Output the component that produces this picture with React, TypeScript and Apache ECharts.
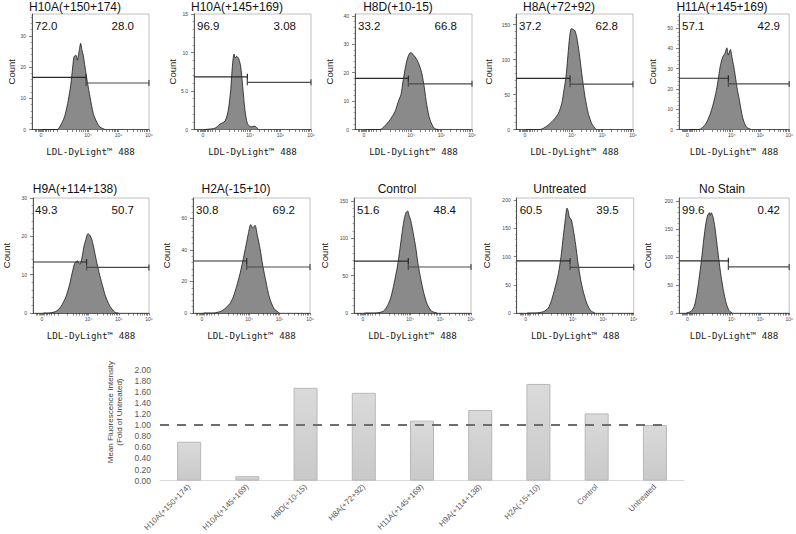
import React, { useEffect, useRef } from "react";
import * as echarts from "echarts";

// ---------- data ----------
const panelTitles = ["H10A(+150+174)", "H10A(+145+169)", "H8D(+10-15)", "H8A(+72+92)", "H11A(+145+169)", "H9A(+114+138)", "H2A(-15+10)", "Control", "Untreated", "No Stain"];
const leftGatePct = ["72.0", "96.9", "33.2", "37.2", "57.1", "49.3", "30.8", "51.6", "60.5", "99.6"];
const rightGatePct = ["28.0", "3.08", "66.8", "62.8", "42.9", "50.7", "69.2", "48.4", "39.5", "0.42"];

const countAxisMax = [37, 15, 40.7, 165, 57, 30, 73, 154, 204, 206];
const countInterval = [10, 5, 10, 50, 10, 10, 20, 50, 50, 50];
const countTicks = [
  [0, 10, 20, 30], [0, 5, 10, 15], [0, 10, 20, 30, 40], [0, 50, 100, 150], [0, 10, 20, 30, 40, 50],
  [0, 10, 20, 30], [0, 20, 40, 60], [0, 50, 100, 150], [0, 50, 100, 150, 200], [0, 50, 100, 150, 200],
];
const countTickLabels = [
  ["0", "10", "20", "30"], ["0", "5.0", "10", "15"], ["0", "10", "20", "30", "40"], ["0", "50", "100", "150"], ["0", "10", "20", "30", "40", "50"],
  ["0", "10", "20", "30"], ["0", "20", "40", "60"], ["0", "50", "100", "150"], ["0", "50", "100", "150", "200"], ["0", "50", "100", "150", "200"],
];

// fluorescence display scale (0..100, biexponential display units)
const fluorMin = 0;
const fluorMax = 100;
const fluorTickValues = [7.7, 48, 74, 100];
const fluorTickLabels = ["0", "10⁴", "10⁵", "10⁶"];
const fluorMinorTicks = [3, 4, 5, 6, 7, 9, 10, 11, 12, 14, 16, 18, 22, 29.8, 34.4, 37.7, 40.2, 42.2, 44, 45.5, 46.8, 55.8, 60.4, 63.7, 66.2, 68.2, 70, 71.5, 72.8, 81.8, 86.4, 89.7, 92.2, 94.2, 96, 97.5, 98.8];

// histograms: [display value, count]
const histH10A150 = [[9, 0], [21.4, 0], [25.4, 2], [28.2, 4.6], [31, 9.4], [33.1, 14.2], [34.8, 20], [35.9, 23.3], [37.6, 23.8], [38.7, 22.2], [40.4, 25.4], [41.6, 27.6], [42.7, 25.4], [43.8, 23.8], [45.3, 20], [47.3, 15.3], [49.6, 10.4], [52.4, 5.1], [55.3, 2.4], [58.1, 0.8], [62.4, 0]];
const histH10A145 = [[9, 0], [17.9, 0.17], [22.2, 0.7], [26.5, 1.1], [29.3, 2.5], [31.4, 5.2], [32.8, 8.2], [34.2, 9.8], [35.3, 9.3], [36.5, 9.5], [38.2, 9.2], [39.9, 8.2], [41.6, 5.6], [43.6, 2.5], [45.6, 0.8], [48.5, 0.35], [52.1, 0.43], [55, 0]];
const histH8D = [[9, 0], [21.4, 0], [25.6, 1.3], [29.9, 3.4], [34.2, 6.3], [37, 9.9], [39.3, 12.3], [41.3, 17.6], [43.6, 23], [45.6, 26], [47.6, 27.1], [51.3, 25.6], [54.1, 23.6], [57, 20], [59.3, 14.6], [61.3, 8.7], [64.1, 3.4], [67.8, 0.4], [71.2, 0]];
const histH8A = [[9, 0], [20.5, 0], [26.2, 4.7], [31.9, 13.3], [36.2, 22.9], [39.1, 37.1], [41, 56.1], [42.7, 75.1], [43.8, 94.3], [45, 118], [46.2, 137], [47.3, 144], [49, 143], [50.4, 141], [51.9, 132], [54.1, 108.6], [56.2, 80], [59, 46.6], [61.8, 22.9], [64.7, 8.6], [68.4, 0]];
const histH11A = [[9, 0], [18.1, 0], [23.9, 2.5], [28.2, 7.5], [31, 12.5], [33.9, 19.2], [35.9, 25.8], [37.6, 31.7], [39.7, 35.8], [41.7, 37.5], [43.4, 40.3], [44.8, 36.7], [46.6, 39.5], [48.3, 35], [50.3, 29.2], [52.6, 20.8], [54.9, 14.2], [57.8, 5.8], [61.2, 1.2], [65.5, 0]];
const histH9A = [[9, 0], [12.6, 0], [19.7, 0.4], [23.9, 1.6], [28.2, 4.1], [31.6, 7.5], [34.2, 11], [35.9, 12.9], [38.2, 13.6], [40.4, 12.7], [42.5, 14.9], [43.8, 17.2], [45.6, 19.2], [47.3, 20.7], [49, 20.3], [50.7, 19.2], [52.4, 17], [54.7, 13.6], [57, 10.5], [59.6, 7.5], [62.4, 4.5], [66.1, 1.9], [70.7, 0.15], [73.8, 0]];
const histH2A = [[9, 0], [17.4, 0], [24.5, 1.3], [28.8, 3.8], [31.6, 6], [34.4, 10.2], [37.3, 17], [40.2, 25], [43, 34.5], [45.3, 43], [47.3, 50.4], [49.3, 56.1], [51, 54], [53, 55.7], [55, 49.3], [57.3, 40.9], [59.6, 30.3], [62.4, 19.7], [65.2, 10.2], [69.2, 2.8], [73.8, 0]];
const histControl = [[9, 0], [17.9, 0], [25, 2.3], [28.8, 10.3], [31.6, 21.4], [34.2, 39.3], [37, 61.6], [39.3, 86.2], [41, 106.3], [42.7, 124], [44.4, 134.4], [45.9, 136.5], [47, 130.8], [48.5, 124], [50.7, 106.3], [52.7, 88.4], [54.7, 66.1], [57, 46], [59.8, 26], [62.6, 11.6], [66.4, 2.3], [71.2, 0]];
const histUntreated = [[9, 0], [15.6, 0], [22.7, 2.3], [27, 8.9], [29.9, 23.6], [32.7, 44.3], [35.6, 69.7], [37.9, 100.4], [39.8, 135.8], [41.5, 165.4], [43, 186.2], [44.1, 180.1], [45, 170.2], [46.7, 165.4], [48.4, 147.7], [50.4, 121.1], [52.4, 88.7], [54.7, 59], [56.9, 38.3], [59.8, 17.7], [63.2, 4.1], [66.9, 0]];
const histNoStain = [[6.6, 0], [10.9, 2.9], [13.8, 11.9], [16.1, 32.7], [18.1, 59.5], [20.4, 95.2], [22.4, 130.9], [24.4, 160.7], [26.1, 175.5], [27.6, 179.6], [28.4, 175], [29.3, 179.6], [30.8, 172.5], [32.5, 154.6], [34.2, 127.9], [36.2, 95.2], [38.2, 65.4], [40.5, 38.6], [42.8, 17.9], [45.4, 4.6], [48.3, 0]];
const histograms = [histH10A150, histH10A145, histH8D, histH8A, histH11A, histH9A, histH2A, histControl, histUntreated, histNoStain];

// gates: boundary (display units), left gate level, right gate level (counts)
const gateBoundary = [46.2, 45.6, 45.6, 46.2, 44.8, 46.2, 45.9, 46.4, 45.6, 44.8];
const gateLeftLevel = [16.7, 6.84, 18, 72.9, 25.3, 13.3, 33, 69.6, 92.4, 93.4];
const gateRightLevel = [14.9, 6.13, 16.1, 64.7, 22.5, 11.9, 29.2, 61.6, 81, 82.5];

// bar chart
const barCategories = ["H10A(+150+174)", "H10A(+145+169)", "H8D(+10-15)", "H8A(+72+92)", "H11A(+145+169)", "H9A(+114+138)", "H2A(-15+10)", "Control", "Untreated"];
const barValues = [0.70, 0.08, 1.67, 1.58, 1.08, 1.27, 1.74, 1.21, 1.00];
const referenceLevel = 1.0;
const referenceExtent = [0, 8.72];

// ---------- layout ----------
const SANS = '"Liberation Sans", Arial, Helvetica, sans-serif';
const MONO = '"DejaVu Sans Mono", monospace';
const PANEL_LEFT = [32, 194, 355, 516, 679, 32, 193, 354, 516.7, 679];
const PANEL_WIDTH = [117, 117, 117, 117, 116, 117, 117, 117, 117, 116];
const ROW_TOP = [14, 198];
const ROW_HEIGHT = [115.5, 115];
const COUNT_NAME_GAP = [14.5, 14.5, 21, 23, 21.5, 22, 22, 24.5, 25, 26.5];

export default function App() {
  const ref = useRef<HTMLDivElement>(null);

  useEffect(() => {
    if (!ref.current) return;
    const chart = echarts.init(ref.current, undefined, { renderer: "svg" });

    const grids: any[] = [];
    const xAxes: any[] = [];
    const yAxes: any[] = [];
    const series: any[] = [];
    const graphics: any[] = [];

    for (let i = 0; i < 10; i++) {
      const row = i < 5 ? 0 : 1;
      const left = PANEL_LEFT[i];
      const width = PANEL_WIDTH[i];
      const top = ROW_TOP[row];
      const height = ROW_HEIGHT[row];
      grids.push({ left, top, width, height, show: true, borderColor: "#b0b0b0", borderWidth: 0.8, backgroundColor: "transparent" });
      xAxes.push({
        type: "value", gridIndex: i, min: fluorMin, max: fluorMax,
        name: "LDL-DyLight™ 488", nameLocation: "middle", nameGap: 17.5,
        nameTextStyle: { fontFamily: MONO, fontSize: 9.2, color: "#222" },
        axisLine: { show: true, lineStyle: { color: "#333", width: 0.8 } },
        axisTick: { show: true, length: 2.5, customValues: fluorTickValues.concat(fluorMinorTicks), lineStyle: { color: "#333", width: 0.6 } },
        axisLabel: {
          show: true, customValues: fluorTickValues, fontSize: 5, color: "#444", margin: 3, fontFamily: SANS,
          formatter: (v: number) => { const k = fluorTickValues.indexOf(v); return k >= 0 ? fluorTickLabels[k] : ""; },
        },
        splitLine: { show: false },
      });
      const ticks = countTicks[i];
      const labels = countTickLabels[i];
      yAxes.push({
        type: "value", gridIndex: i, min: 0, max: countAxisMax[i], interval: countInterval[i],
        name: "Count", nameLocation: "middle", nameRotate: 90, nameGap: COUNT_NAME_GAP[i],
        nameTextStyle: { fontFamily: SANS, fontSize: 9.5, color: "#222" },
        axisLine: { show: true, lineStyle: { color: "#333", width: 0.8 } },
        axisTick: { show: true, length: 3, customValues: ticks, lineStyle: { color: "#333", width: 0.6 } },
        minorTick: { show: true, splitNumber: 5, length: 1.5, lineStyle: { color: "#555", width: 0.5 } },
        axisLabel: {
          show: true, customValues: ticks, fontSize: 5, color: "#444", margin: 6, fontFamily: SANS,
          formatter: (v: number) => { const k = ticks.indexOf(v); return k >= 0 ? labels[k] : ""; },
        },
        splitLine: { show: false },
      });
      series.push({
        type: "line", xAxisIndex: i, yAxisIndex: i, data: histograms[i],
        showSymbol: false, symbol: "none", smooth: 0.25, silent: true, z: 2,
        lineStyle: { color: "#1a1a1a", width: 0.8 },
        areaStyle: { color: "#8a8a8a", opacity: 1 },
      });
      series.push({
        type: "custom", xAxisIndex: i, yAxisIndex: i, silent: true, z: 3,
        data: [[gateBoundary[i], gateLeftLevel[i], gateRightLevel[i]]],
        encode: { x: 0, y: [1, 2] },
        renderItem: (params: any, api: any) => {
          const gx = api.value(0);
          const ly = api.value(1);
          const ry = api.value(2);
          const a = api.coord([fluorMin, ly]);
          const b = api.coord([gx, ly]);
          const c = api.coord([gx, ry]);
          const d = api.coord([fluorMax, ry]);
          const cap = 3;
          const st = { stroke: "#2a2a2a", lineWidth: 1.2 };
          const st2 = { stroke: "#4a4a4a", lineWidth: 1.2 };
          return {
            type: "group",
            children: [
              { type: "line", shape: { x1: a[0], y1: a[1], x2: b[0], y2: b[1] }, style: st },
              { type: "line", shape: { x1: b[0], y1: b[1] - cap, x2: b[0], y2: b[1] + cap }, style: st },
              { type: "line", shape: { x1: c[0], y1: c[1], x2: d[0], y2: d[1] }, style: st2 },
              { type: "line", shape: { x1: c[0], y1: c[1] - cap, x2: c[0], y2: c[1] + cap }, style: st2 },
              { type: "line", shape: { x1: d[0], y1: d[1] - cap, x2: d[0], y2: d[1] + cap }, style: st2 },
            ],
          };
        },
      });
      // panel title
      graphics.push({
        type: "text", x: left + 43, y: row === 0 ? 7 : 189, silent: true,
        style: { text: panelTitles[i], fontSize: 12, fontFamily: SANS, fill: "#111", align: "center", verticalAlign: "middle", textAlign: "center", textVerticalAlign: "middle" },
      });
      graphics.push({
        type: "text", x: left + 3, y: top + 12.3, silent: true,
        style: { text: leftGatePct[i], fontSize: 11.5, fontFamily: SANS, fill: "#111", align: "left", verticalAlign: "middle", textAlign: "left", textVerticalAlign: "middle" },
      });
      graphics.push({
        type: "text", x: left + width - 15, y: top + 12.3, silent: true,
        style: { text: rightGatePct[i], fontSize: 11.5, fontFamily: SANS, fill: "#111", align: "right", verticalAlign: "middle", textAlign: "right", textVerticalAlign: "middle" },
      });
    }

    // bar chart
    grids.push({ left: 160, top: 369.5, width: 524, height: 112.5 });
    xAxes.push({
      type: "category", gridIndex: 10, data: barCategories,
      axisLine: { show: true, lineStyle: { color: "#d9d9d9", width: 1 } },
      axisTick: { show: false },
      axisLabel: { interval: 0, rotate: 45, fontSize: 8, color: "#595959", fontFamily: SANS, margin: 5 },
    });
    xAxes.push({ type: "value", gridIndex: 10, min: 0, max: barCategories.length, show: false });
    yAxes.push({
      type: "value", gridIndex: 10, min: 0, max: 2, interval: 0.2,
      name: "Mean Fluorescence Intensity\n(Fold of Untreated)", nameLocation: "middle", nameRotate: 90, nameGap: 32,
      nameTextStyle: { fontFamily: SANS, fontSize: 8, color: "#404040", lineHeight: 8.5, padding: [0, 0, 0, 26] },
      axisLine: { show: false }, axisTick: { show: false }, splitLine: { show: false },
      axisLabel: { fontSize: 8.5, color: "#595959", fontFamily: SANS, margin: 9, formatter: (v: number) => v.toFixed(2) },
    });
    series.push({
      type: "bar", xAxisIndex: 10, yAxisIndex: 10, data: barValues, barWidth: 24, silent: true,
      itemStyle: {
        color: new echarts.graphic.LinearGradient(0, 0, 0, 1, [
          { offset: 0, color: "#dadada" },
          { offset: 1, color: "#c9c9c9" },
        ]),
        borderColor: "#b8b8b8", borderWidth: 1,
      },
    });
    series.push({
      type: "line", xAxisIndex: 11, yAxisIndex: 10, silent: true, symbol: "none", z: 5,
      data: [[referenceExtent[0], referenceLevel], [referenceExtent[1], referenceLevel]],
      lineStyle: { color: "#6e6e6e", width: 2, type: [9, 8] },
    });

    chart.setOption({
      animation: false,
      backgroundColor: "#ffffff",
      grid: grids,
      xAxis: xAxes,
      yAxis: yAxes,
      series,
      graphic: graphics,
    });
    return () => chart.dispose();
  }, []);

  return <div ref={ref} style={{ position: "fixed", left: 0, top: 0, width: 796, height: 534, background: "#fff" }} />;
}
